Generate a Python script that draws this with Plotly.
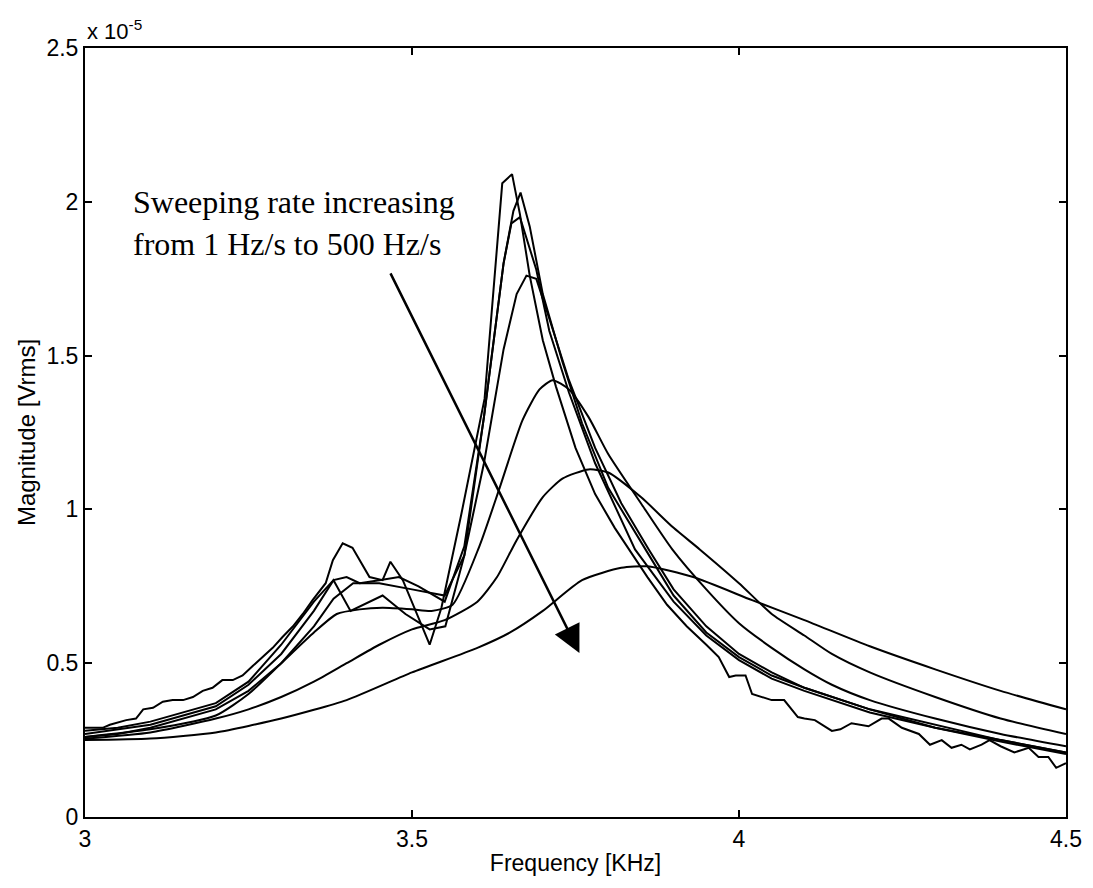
import plotly.graph_objects as go

# Frequency [kHz] and magnitude [x1e-5 Vrms] for each sweep rate
f1 = [3.0, 3.027, 3.038, 3.063, 3.078, 3.089, 3.104, 3.119, 3.134, 3.15, 3.165, 3.18, 3.195, 3.21, 3.226,
      3.241, 3.256, 3.272, 3.287, 3.302, 3.318, 3.333, 3.348, 3.368, 3.379, 3.394, 3.409, 3.435, 3.455, 3.467,
      3.486, 3.527, 3.545, 3.575, 3.611, 3.638, 3.653, 3.665, 3.68, 3.70, 3.72, 3.75, 3.78, 3.81, 3.832, 3.86,
      3.89, 3.92, 3.95, 3.969, 3.985, 3.995, 4.01, 4.02, 4.05, 4.069, 4.09, 4.10, 4.116, 4.142, 4.155, 4.172,
      4.198, 4.218, 4.229, 4.249, 4.275, 4.292, 4.31, 4.325, 4.34, 4.353, 4.371, 4.383, 4.40, 4.421, 4.443,
      4.458, 4.473, 4.485, 4.5]
m1 = [0.29, 0.29, 0.30, 0.315, 0.32, 0.35, 0.355, 0.375, 0.38, 0.38, 0.39, 0.41, 0.42, 0.445, 0.445,
      0.46, 0.49, 0.52, 0.55, 0.585, 0.62, 0.66, 0.705, 0.76, 0.835, 0.89, 0.875, 0.78, 0.77, 0.83,
      0.77, 0.56, 0.68, 0.98, 1.36, 2.06, 2.09, 1.96, 1.76, 1.55, 1.40, 1.20, 1.05, 0.94, 0.87, 0.78,
      0.69, 0.62, 0.56, 0.52, 0.455, 0.46, 0.46, 0.40, 0.38, 0.38, 0.325, 0.32, 0.315, 0.28, 0.285, 0.305,
      0.295, 0.32, 0.32, 0.29, 0.27, 0.235, 0.25, 0.225, 0.235, 0.22, 0.235, 0.25, 0.23, 0.21, 0.225,
      0.195, 0.195, 0.16, 0.175]

f2 = [3.0, 3.05, 3.1, 3.15, 3.2, 3.25, 3.3, 3.35, 3.38, 3.40, 3.42, 3.45, 3.48, 3.51, 3.55, 3.58, 3.61,
      3.64, 3.655, 3.666, 3.68, 3.70, 3.73, 3.76, 3.80, 3.857, 3.90, 3.95, 4.0, 4.05, 4.1, 4.2, 4.3, 4.4, 4.5]
m2 = [0.28, 0.29, 0.31, 0.34, 0.37, 0.44, 0.56, 0.70, 0.77, 0.78, 0.76, 0.77, 0.78, 0.75, 0.70, 0.88, 1.30,
      1.80, 1.97, 2.03, 1.92, 1.70, 1.48, 1.28, 1.07, 0.87, 0.72, 0.60, 0.52, 0.46, 0.42, 0.35, 0.29, 0.25, 0.21]

f3 = [3.0, 3.05, 3.1, 3.15, 3.2, 3.25, 3.3, 3.35, 3.38, 3.406, 3.425, 3.455, 3.49, 3.527, 3.551, 3.58,
      3.61, 3.64, 3.652, 3.665, 3.69, 3.71, 3.74, 3.78, 3.841, 3.9, 3.95, 4.0, 4.05, 4.1, 4.2, 4.3, 4.4, 4.5]
m3 = [0.27, 0.285, 0.30, 0.33, 0.36, 0.43, 0.53, 0.67, 0.77, 0.67, 0.69, 0.72, 0.66, 0.61, 0.62, 0.85,
      1.30, 1.80, 1.93, 1.95, 1.78, 1.58, 1.38, 1.15, 0.87, 0.70, 0.59, 0.51, 0.45, 0.41, 0.34, 0.29, 0.245, 0.205]

f4 = [3.0, 3.05, 3.1, 3.15, 3.2, 3.25, 3.3, 3.35, 3.38, 3.41, 3.45, 3.50, 3.55, 3.58, 3.61, 3.64, 3.66,
      3.675, 3.69, 3.71, 3.74, 3.78, 3.82, 3.862, 3.9, 3.95, 4.0, 4.05, 4.1, 4.2, 4.3, 4.4, 4.5]
m4 = [0.26, 0.27, 0.29, 0.32, 0.35, 0.41, 0.50, 0.62, 0.71, 0.76, 0.76, 0.74, 0.72, 0.85, 1.15, 1.52, 1.70,
      1.76, 1.75, 1.62, 1.42, 1.20, 1.02, 0.87, 0.74, 0.62, 0.53, 0.47, 0.42, 0.35, 0.30, 0.25, 0.21]

f5 = [3.0, 3.1, 3.2, 3.25, 3.3, 3.35, 3.385, 3.42, 3.455, 3.50, 3.53, 3.562, 3.603, 3.634, 3.669, 3.695,
      3.715, 3.74, 3.77, 3.80, 3.85, 3.898, 3.95, 4.0, 4.05, 4.1, 4.142, 4.2, 4.3, 4.4, 4.5]
m5 = [0.26, 0.285, 0.33, 0.40, 0.50, 0.60, 0.66, 0.675, 0.68, 0.675, 0.67, 0.69, 0.88, 1.07, 1.29, 1.39,
      1.42, 1.39, 1.30, 1.18, 1.02, 0.87, 0.74, 0.63, 0.55, 0.48, 0.43, 0.38, 0.32, 0.27, 0.23]

f6 = [3.0, 3.1, 3.2, 3.25, 3.3, 3.35, 3.4, 3.45, 3.5, 3.55, 3.6, 3.63, 3.66, 3.70, 3.73, 3.77, 3.80, 3.85,
      3.90, 3.94, 4.0, 4.05, 4.1, 4.142, 4.2, 4.3, 4.4, 4.5]
m6 = [0.255, 0.275, 0.32, 0.35, 0.39, 0.44, 0.50, 0.56, 0.61, 0.64, 0.70, 0.78, 0.90, 1.04, 1.10, 1.13, 1.12,
      1.04, 0.94, 0.87, 0.76, 0.66, 0.59, 0.53, 0.47, 0.39, 0.32, 0.27]

f7 = [3.0, 3.1, 3.2, 3.3, 3.4, 3.5, 3.6, 3.65, 3.7, 3.76, 3.82, 3.86, 3.93, 4.02, 4.1, 4.2, 4.3, 4.4, 4.5]
m7 = [0.25, 0.255, 0.275, 0.32, 0.38, 0.47, 0.55, 0.60, 0.67, 0.77, 0.81, 0.815, 0.78, 0.705, 0.64, 0.555,
      0.48, 0.41, 0.35]

series = [(f1, m1, "linear"), (f2, m2, "linear"), (f3, m3, "linear"), (f4, m4, "linear"),
          (f5, m5, "spline"), (f6, m6, "spline"), (f7, m7, "spline")]

fig = go.Figure()
for fx, my, shape in series:
    fig.add_trace(go.Scatter(x=fx, y=my, mode="lines",
                             line=dict(color="black", width=2, shape=shape, smoothing=0.6),
                             showlegend=False, hoverinfo="skip"))

axis_common = dict(showline=True, linecolor="black", linewidth=2, mirror="ticks",
                   ticks="inside", ticklen=7, tickwidth=1.5, tickcolor="black",
                   showgrid=False, zeroline=False,
                   tickfont=dict(family="Liberation Sans, Arial", size=23, color="black"))

fig.update_xaxes(range=[3, 4.5], dtick=0.5, tick0=3,
                 title=dict(text="Frequency [KHz]", standoff=4,
                            font=dict(family="Liberation Sans, Arial", size=23, color="black")),
                 **axis_common)
fig.update_yaxes(range=[0, 2.5], dtick=0.5, tick0=0,
                 title=dict(text="Magnitude [Vrms]", standoff=4,
                            font=dict(family="Liberation Sans, Arial", size=24, color="black")),
                 **axis_common)

fig.add_annotation(xref="paper", yref="paper", x=0.0, y=1.0, xanchor="left", yanchor="bottom",
                   yshift=2, text="x 10<sup>-5</sup>", showarrow=False,
                   font=dict(family="Liberation Sans, Arial", size=22, color="black"))

fig.add_annotation(x=3.756, y=0.533, ax=3.466, ay=1.772, xref="x", yref="y", axref="x", ayref="y",
                   text="", showarrow=True, arrowhead=2, arrowsize=2.2, arrowwidth=2.5,
                   arrowcolor="black", standoff=0)

fig.add_annotation(xref="x", yref="y", x=3.07, y=1.93, xanchor="left", yanchor="middle",
                   text="Sweeping rate increasing<br>from 1 Hz/s to 500 Hz/s", align="left",
                   showarrow=False,
                   font=dict(family="Liberation Serif, Times New Roman", size=32, color="black"))

fig.update_layout(width=1093, height=888, margin=dict(l=85, r=27, t=48, b=71),
                  plot_bgcolor="white", paper_bgcolor="white")

fig.write_html("out.html")
